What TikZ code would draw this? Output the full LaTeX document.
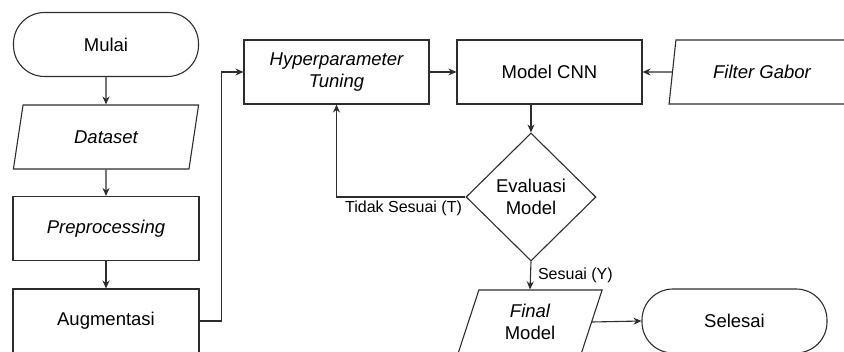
\documentclass[tikz,border=0pt]{standalone}
\usepackage{fontspec}
\setmainfont{Liberation Sans}
\usepackage{xcolor}
\usepackage{tikz}
\usetikzlibrary{shapes.geometric, arrows.meta, positioning, calc}
\definecolor{garis}{RGB}{45, 45, 45}

\begin{document}
\begin{tikzpicture}[x=1pt, y=-1pt, line width=1.1pt,
  every node/.style={font=\fontsize{18.5}{22.5}\selectfont, align=center, inner sep=0pt},
  terminal/.style={draw=garis, rectangle, rounded corners=31pt, minimum width=185pt, minimum height=64pt},
  proses/.style={draw=garis, rectangle, minimum width=186pt, minimum height=64pt},
  io/.style={draw=garis, trapezium, trapezium left angle=74, trapezium right angle=106, trapezium stretches=true, minimum width=186pt, minimum height=64pt},
  keputusan/.style={draw=garis, diamond, minimum width=130pt, minimum height=128pt},
  arr/.style={draw=garis, -{Stealth[length=8pt, width=7pt]}},
  ket/.style={font=\fontsize{16}{19}\selectfont, inner sep=3pt}]
\clip (0,0) rectangle (844,352);
% kolom kiri
\node[terminal] (mulai) at (106,44.5) {Mulai};
\node[io] (dataset) at (106,137) {\itshape Dataset};
\node[proses] (preproc) at (106,228.5) {\itshape Preprocessing};
\node[proses] (augmentasi) at (106,321) {Augmentasi};
% baris atas
\node[proses, minimum width=185pt] (hyper) at (336.5,72) {\itshape Hyperparameter\\\itshape Tuning};
\node[proses, minimum width=185pt] (cnn) at (549.5,72) {Model CNN};
\node[io] (gabor) at (762,72) {\itshape Filter Gabor};
% evaluasi
\node[keputusan] (evaluasi) at (531,197) {Evaluasi\\Model};
\node[io, minimum width=145pt] (final) at (530,322) {\itshape Final\\Model};
\node[terminal] (selesai) at (734.5,321) {Selesai};

\draw[arr] (mulai) -- (dataset);
\draw[arr] (dataset) -- (preproc);
\draw[arr] (preproc) -- (augmentasi);
\draw[arr] (augmentasi.east) -- ++(22,0) |- (hyper.west);
\draw[arr] (hyper) -- (cnn);
\draw[arr] (gabor) -- (cnn);
\draw[arr] (cnn.south -| evaluasi.north) -- (evaluasi.north);
\draw[arr] (evaluasi.west) -| (hyper.south) node[ket, pos=0, below left] {Tidak Sesuai (T)};
\draw[arr] (evaluasi.south) -- (final.north) node[ket, midway, right, xshift=4pt] {Sesuai (Y)};
\draw[arr] (final.east) -- (selesai.west);
\end{tikzpicture}
\end{document}
